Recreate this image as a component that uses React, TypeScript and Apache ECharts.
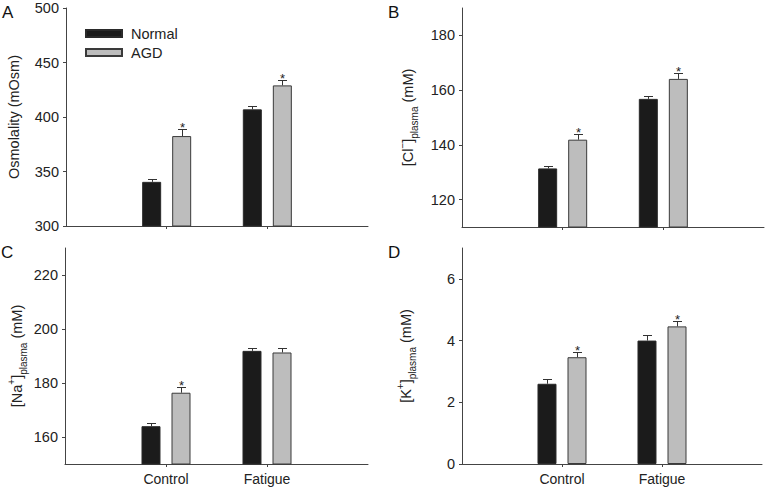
import React, { useEffect, useRef } from "react";
import * as echarts from "echarts";

const categories = ["Control", "Fatigue"];

const osmNormal = [340.5, 407];
const osmNormalErr = [3, 3];
const osmAGD = [382.5, 429];
const osmAGDErr = [6.8, 5];
const osmSig = [true, true];
const osmTicks = [300, 350, 400, 450, 500];

const clNormal = [131.4, 156.8];
const clNormalErr = [0.9, 1.0];
const clAGD = [141.9, 164.1];
const clAGDErr = [1.9, 2.0];
const clSig = [true, true];
const clTicks = [120, 140, 160, 180];

const naNormal = [164.0, 191.9];
const naNormalErr = [1.1, 0.9];
const naAGD = [176.4, 191.3];
const naAGDErr = [2.2, 1.5];
const naSig = [true, false];
const naTicks = [160, 180, 200, 220];

const kNormal = [2.6, 4.0];
const kNormalErr = [0.17, 0.17];
const kAGD = [3.46, 4.46];
const kAGDErr = [0.17, 0.16];
const kSig = [true, true];
const kTicks = [0, 2, 4, 6];

const FONT = "'Liberation Sans', Arial, sans-serif";
const TXT = "#222";
const AX = "#444";

export default function App() {
  const ref = useRef<HTMLDivElement>(null);
  useEffect(() => {
    if (!ref.current) return;
    const chart = echarts.init(ref.current, undefined, { renderer: "svg" });
    const xCats = ["", ...categories, ""];

    const grids = [
      { left: 66, top: 8, width: 302, height: 218 },
      { left: 462, top: 8, width: 302, height: 219 },
      { left: 65, top: 248, width: 303, height: 216 },
      { left: 462, top: 248, width: 302, height: 216 },
    ];

    const panels = [
      { normal: osmNormal, nErr: osmNormalErr, agd: osmAGD, aErr: osmAGDErr, sig: osmSig, ticks: osmTicks, min: 300, max: 500,
        name: "Osmolality (mOsm)", gap: 45 },
      { normal: clNormal, nErr: clNormalErr, agd: clAGD, aErr: clAGDErr, sig: clSig, ticks: clTicks, min: 110, max: 190,
        name: "{a|[Cl}{sup|−}{a|]}{sub|plasma}{a| (mM)}", gap: 43 },
      { normal: naNormal, nErr: naNormalErr, agd: naAGD, aErr: naAGDErr, sig: naSig, ticks: naTicks, min: 150, max: 230,
        name: "{a|[Na}{sup|+}{a|]}{sub|plasma}{a| (mM)}", gap: 37 },
      { normal: kNormal, nErr: kNormalErr, agd: kAGD, aErr: kAGDErr, sig: kSig, ticks: kTicks, min: 0, max: 7,
        name: "{a|[K}{sup|+}{a|]}{sub|plasma}{a| (mM)}", gap: 45 },
    ];

    const rich = {
      a: { fontSize: 14.5, fontFamily: FONT, color: TXT, lineHeight: 22 },
      sub: { fontSize: 10, fontFamily: FONT, color: TXT, lineHeight: 10, verticalAlign: "bottom" },
      sup: { fontSize: 10, fontFamily: FONT, color: TXT, lineHeight: 10, verticalAlign: "top" },
    };

    const xAxis = panels.map((p, i) => ({
      type: "category",
      gridIndex: i,
      data: xCats,
      boundaryGap: false,
      axisLine: { lineStyle: { color: AX, width: 1 } },
      axisTick: {
        show: true,
        length: 3,
        interval: (idx: number) => idx === 1 || idx === 2,
        lineStyle: { color: AX },
      },
      axisLabel: {
        show: i >= 2,
        interval: 0,
        fontSize: 14,
        fontFamily: FONT,
        color: TXT,
        margin: 8,
      },
      splitLine: { show: false },
    }));

    const yAxis = panels.map((p, i) => ({
      type: "value",
      gridIndex: i,
      min: p.min,
      max: p.max,
      name: p.name,
      nameLocation: "middle",
      nameRotate: 90,
      nameGap: p.gap,
      nameTextStyle: { fontSize: 14.5, fontFamily: FONT, color: TXT, rich },
      axisLine: { show: true, lineStyle: { color: AX, width: 1 } },
      axisTick: { show: true, length: 3, customValues: p.ticks, lineStyle: { color: AX } },
      axisLabel: { customValues: p.ticks, fontSize: 14.5, fontFamily: FONT, color: TXT, margin: 7 },
      splitLine: { show: false },
    }));

    const pad = (arr: number[]) => ["-", ...arr, "-"];

    const errSeries = (gi: number, vals: number[], errs: number[], sig: boolean[], offset: number) => ({
      type: "custom",
      xAxisIndex: gi,
      yAxisIndex: gi,
      silent: true,
      z: 5,
      encode: { x: 0, y: 1 },
      data: vals.map((v, i) => [i + 1, v, errs[i], sig[i] ? 1 : 0]),
      renderItem: (params: any, api: any) => {
        const x = api.value(0);
        const v = api.value(1);
        const e = api.value(2);
        const s = api.value(3);
        const p0 = api.coord([x, v]);
        const p1 = api.coord([x, v + e]);
        const cx = Math.round(p0[0] + offset) + 0.5;
        const ty = Math.round(p1[1]) + 0.5;
        const children: any[] = [
          { type: "line", shape: { x1: cx, y1: p0[1], x2: cx, y2: ty }, style: { stroke: "#333", lineWidth: 1 } },
          { type: "line", shape: { x1: cx - 4.5, y1: ty, x2: cx + 4.5, y2: ty }, style: { stroke: "#333", lineWidth: 1 } },
        ];
        if (s) {
          children.push({
            type: "text",
            x: cx,
            y: ty - 2,
            style: { text: "*", fontSize: 13, fontFamily: FONT, fill: TXT, align: "center", verticalAlign: "middle" },
          });
        }
        return { type: "group", children };
      },
    });

    const series: any[] = [];
    panels.forEach((p, i) => {
      series.push({
        type: "bar",
        name: "Normal",
        xAxisIndex: i,
        yAxisIndex: i,
        data: pad(p.normal),
        barWidth: 19,
        barGap: "58%",
        itemStyle: { color: "#1b1b1b", borderColor: "#2a2a2a", borderWidth: 1 },
      });
      series.push({
        type: "bar",
        name: "AGD",
        xAxisIndex: i,
        yAxisIndex: i,
        data: pad(p.agd),
        barWidth: 19,
        barGap: "58%",
        itemStyle: { color: "#bdbdbd", borderColor: "#3a3a3a", borderWidth: 1 },
      });
      series.push(errSeries(i, p.normal, p.nErr, p.normal.map(() => false), -15));
      series.push(errSeries(i, p.agd, p.aErr, p.sig, 15));
    });

    const letters = [
      { t: "A", x: 2, y: 4 },
      { t: "B", x: 388, y: 4 },
      { t: "C", x: 1, y: 244 },
      { t: "D", x: 388, y: 244 },
    ];

    chart.setOption({
      animation: false,
      backgroundColor: "#ffffff",
      grid: grids,
      xAxis,
      yAxis,
      series,
      legend: {
        data: ["Normal", "AGD"],
        orient: "vertical",
        left: 85,
        top: 26,
        padding: 0,
        itemWidth: 36,
        itemHeight: 7,
        itemGap: 4,
        icon: "rect",
        selectedMode: false,
        textStyle: { fontSize: 14.5, fontFamily: FONT, color: TXT, padding: [0, 0, 0, 4] },
      },
      graphic: letters.map((l) => ({
        type: "text",
        left: l.x,
        top: l.y,
        style: { text: l.t, fontSize: 17, fontFamily: FONT, fill: "#111" },
      })),
    });
    return () => chart.dispose();
  }, []);
  return (
    <div
      ref={ref}
      style={{ position: "fixed", left: 0, top: 0, width: 765, height: 489, background: "#fff" }}
    />
  );
}
